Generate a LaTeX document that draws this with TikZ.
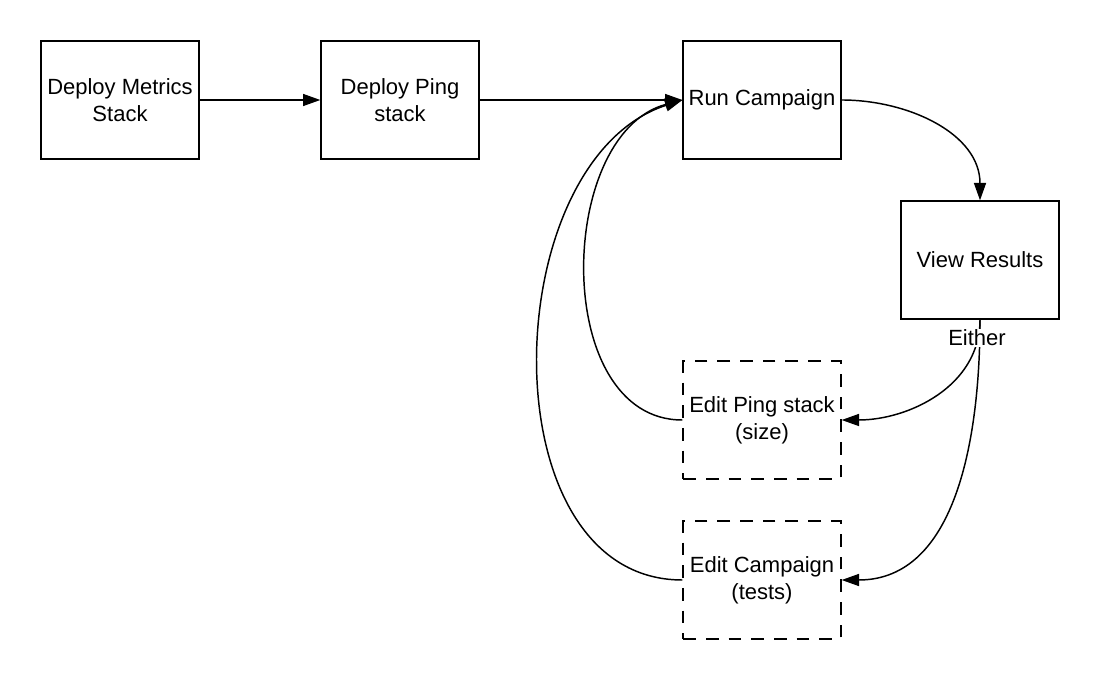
\documentclass[tikz,border=0pt]{standalone}
\usepackage{fontspec}
\setmainfont{Liberation Sans}
\usetikzlibrary{arrows.meta,
	positioning,
	shapes}

\begin{document}
\begin{tikzpicture}[x=0.75pt,y=0.75pt,
	stepbox/.style={draw, line width=1.5pt, minimum width=118pt, minimum height=88pt, align=center, inner sep=2pt},
	editbox/.style={stepbox, dash pattern=on 9.5pt off 7.5pt},
	link/.style={line width=1.1pt, -{Triangle[length=13pt,width=9pt]}},
	font=\fontsize{16.5}{20}\selectfont]
\useasboundingbox (0,0) rectangle (1100,-680);

% main line
\node[stepbox] (metrics) at (120,-100) {Deploy Metrics\\Stack};
\node[stepbox] (ping) at (400,-100) {Deploy Ping\\stack};
\node[stepbox] (run) at (762,-100) {Run Campaign};
\node[stepbox] (view) at (980,-260) {View Results};

% edit steps
\node[editbox] (editping) at (762,-420) {Edit Ping stack\\(size)};
\node[editbox] (editcamp) at (762,-580) {Edit Campaign\\(tests)};

\draw[link] (metrics.east) -- (ping.west);
\draw[link] (ping.east) -- (run.west);
\draw[link] (run.east) to[out=0,in=90] (view.north);

\draw[link] (view.south) to[out=-90,in=0] (editping.east);
\draw[link] (view.south) to[out=-90,in=0] (editcamp.east);
\node[fill=white, inner sep=1pt] (either) at (977,-338) {Either};

% loop back
\draw[link] (editping.west) to[out=180,in=195,looseness=1.05] (run.west);
\draw[link] (editcamp.west) to[out=180,in=198,looseness=1.05] (run.west);
\end{tikzpicture}
\end{document}
